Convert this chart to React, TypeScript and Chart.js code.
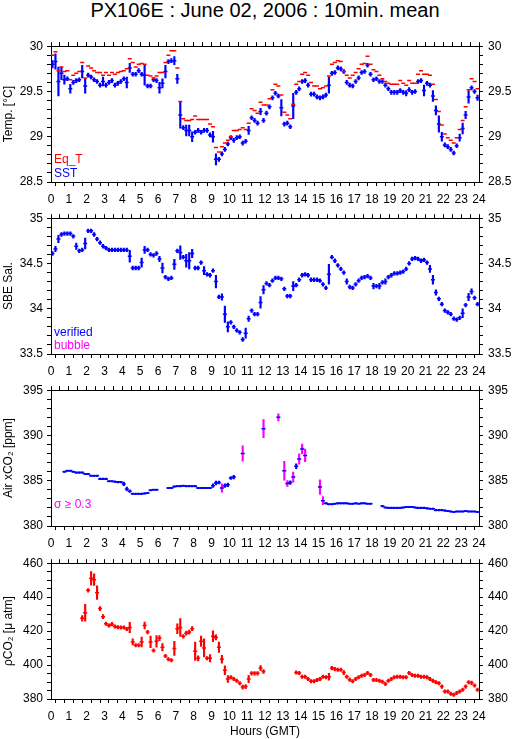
import React, { useEffect, useRef } from "react";
import { Chart, registerables } from "chart.js";

Chart.register(...registerables);

const FONT = "'Liberation Sans', Arial, Helvetica, sans-serif";
Chart.defaults.font.family = FONT;
Chart.defaults.color = "#000";

const RED = "#ff0000";
const BLUE = "#0000ff";
const MAGENTA = "#ff00ff";
const N = null;

// 10-minute mean bins over the day
const BIN_MINUTES = 10;
const N_BINS = 144;
const binHours = Array.from({ length: N_BINS }, (_, i) => ((i + 0.5) * BIN_MINUTES) / 60);

// tick labels
const hourTickLabels = [0, 1, 2, 3, 4, 5, 6, 7, 8, 9, 10, 11, 12, 13, 14, 15, 16, 17, 18, 19, 20, 21, 22, 23, 24];
const tempTickLabels = [28.5, 29, 29.5, 30];
const salTickLabels = [33.5, 34, 34.5, 35];
const xco2TickLabels = [380, 385, 390, 395];
const pco2TickLabels = [380, 400, 420, 440, 460];

// Equilibrator temperature [°C]
const eqTemp = [
  29.90, 29.94, 29.73, 29.77, 29.72, 29.73, 29.63, 29.68, 29.70, 29.72, 29.82, 29.65,
  29.78, 29.76, 29.73, 29.71, 29.71, 29.68, 29.71, 29.68, 29.71, 29.69, 29.71, 29.72,
  29.73, 29.75, 29.86, 29.82, 29.77, 29.80, 29.81, 29.80, 29.68, 29.67, 29.65, 29.67,
  29.71, 29.71, 29.82, 29.90, 29.95, 29.95, 29.76, 29.39, 29.20, 29.18, 29.18, 29.19,
  29.23, 29.19, 29.19, 29.19, 29.19, 29.14, 29.11, 28.88, 28.83, 28.89, 28.93, 28.96,
  29.00, 29.07, 29.07, 29.08, 29.10, 29.08, 29.15, 29.31, 29.29, 29.26, 29.38, 29.35,
  29.35, 29.42, 29.52, 29.58, 29.56, 29.46, 29.27, 29.24, 29.20, 29.36, 29.58, 29.61,
  29.69, 29.71, 29.68, 29.60, 29.56, 29.56, 29.53, 29.54, 29.56, 29.67, 29.80, 29.82,
  29.84, 29.83, 29.72, 29.68, 29.65, 29.68, 29.71, 29.75, 29.80, 29.81, 29.89, 29.80,
  29.74, 29.72, 29.68, 29.64, 29.61, 29.59, 29.58, 29.58, 29.58, 29.62, 29.59, 29.57,
  29.62, 29.59, 29.59, 29.69, 29.73, 29.69, 29.69, 29.68, 29.58, 29.41, 29.28, 29.13,
  29.03, 28.99, 28.96, 28.93, 28.99, 29.08, 29.18, 29.33, 29.52, 29.64, 29.61, 29.53,
];

// Sea surface temperature [°C] and its standard deviation
const sst = [
  29.80, 29.83, 29.61, 29.70, 29.63, 29.64, 29.53, 29.60, 29.62, 29.63, 29.72, 29.56,
  29.68, 29.66, 29.63, 29.61, 29.57, 29.61, 29.57, 29.60, 29.62, 29.57, 29.59, 29.61,
  29.64, 29.60, 29.76, 29.69, 29.69, 29.73, 29.69, 29.68, 29.56, 29.56, 29.63, 29.62,
  29.54, 29.59, 29.72, 29.83, 29.84, 29.84, 29.64, 29.24, 29.10, 29.07, 29.07, 29.00,
  29.05, 29.07, 29.05, 29.07, 29.07, 29.02, 29.00, 28.75, 28.75, 28.81, 28.86, 28.92,
  28.99, 28.96, 28.99, 29.00, 28.93, 28.95, 29.07, 29.21, 29.18, 29.15, 29.28, 29.18,
  29.26, 29.33, 29.43, 29.48, 29.45, 29.32, 29.14, 29.15, 29.11, 29.34, 29.49, 29.53,
  29.61, 29.62, 29.57, 29.47, 29.47, 29.44, 29.43, 29.44, 29.46, 29.57, 29.70, 29.71,
  29.76, 29.75, 29.72, 29.60, 29.57, 29.56, 29.61, 29.65, 29.71, 29.72, 29.79, 29.69,
  29.63, 29.64, 29.61, 29.61, 29.57, 29.53, 29.49, 29.49, 29.49, 29.51, 29.49, 29.48,
  29.52, 29.49, 29.50, 29.61, 29.62, 29.51, 29.59, 29.57, 29.45, 29.29, 29.14, 29.00,
  28.91, 28.89, 28.86, 28.82, 28.90, 28.99, 29.09, 29.24, 29.44, 29.54, 29.50, 29.43,
];
const sstSigma = [
  0.04, 0.085, 0.16, 0.07, 0.05, 0.022, 0.05, 0.022, 0.022, 0.022, 0.07, 0.08,
  0.022, 0.022, 0.022, 0.022, 0.022, 0.05, 0.022, 0.022, 0.022, 0.022, 0.022, 0.022,
  0.022, 0.06, 0.05, 0.022, 0.022, 0.022, 0.022, 0.11, 0.022, 0.022, 0.022, 0.022,
  0.06, 0.05, 0.07, 0.022, 0.022, 0.045, 0.05, 0.145, 0.022, 0.06, 0.06, 0.055,
  0.022, 0.022, 0.022, 0.022, 0.022, 0.022, 0.06, 0.06, 0.022, 0.022, 0.022, 0.022,
  0.022, 0.022, 0.022, 0.022, 0.022, 0.022, 0.045, 0.022, 0.022, 0.022, 0.035, 0.022,
  0.022, 0.022, 0.022, 0.022, 0.022, 0.09, 0.022, 0.022, 0.022, 0.14, 0.022, 0.022,
  0.022, 0.022, 0.022, 0.022, 0.022, 0.022, 0.022, 0.022, 0.022, 0.09, 0.022, 0.022,
  0.022, 0.022, 0.022, 0.022, 0.022, 0.022, 0.022, 0.022, 0.022, 0.022, 0.022, 0.022,
  0.022, 0.022, 0.022, 0.022, 0.022, 0.022, 0.022, 0.022, 0.022, 0.022, 0.022, 0.03,
  0.022, 0.022, 0.022, 0.022, 0.022, 0.06, 0.022, 0.022, 0.06, 0.05, 0.09, 0.05,
  0.022, 0.022, 0.022, 0.022, 0.022, 0.04, 0.06, 0.04, 0.07, 0.022, 0.022, 0.03,
];

// SBE salinity and its standard deviation
const salinity = [
  34.61, 34.66, 34.77, 34.82, 34.83, 34.83, 34.83, 34.80, 34.69, 34.64, 34.65, 34.72,
  34.86, 34.86, 34.82, 34.77, 34.73, 34.69, 34.67, 34.65, 34.65, 34.65, 34.65, 34.65,
  34.65, 34.65, 34.58, 34.45, 34.45, 34.45, 34.51, 34.65, 34.65, 34.60, 34.59, 34.61,
  34.55, 34.45, 34.35, 34.33, 34.34, 34.49, 34.64, 34.62, 34.57, 34.53, 34.53, 34.61,
  34.45, 34.45, 34.51, 34.42, 34.38, 34.37, 34.42, 34.30, 34.13, 34.13, 33.94, 33.80,
  33.85, 33.80, 33.76, 33.74, 33.66, 33.73, 33.89, 33.98, 33.94, 33.94, 34.07, 34.21,
  34.28, 34.26, 34.31, 34.34, 34.34, 34.33, 34.22, 34.14, 34.14, 34.25, 34.26, 34.32,
  34.37, 34.38, 34.37, 34.32, 34.32, 34.32, 34.31, 34.27, 34.23, 34.38, 34.57, 34.53,
  34.48, 34.44, 34.40, 34.30, 34.24, 34.23, 34.27, 34.31, 34.34, 34.35, 34.36, 34.34,
  34.25, 34.25, 34.25, 34.29, 34.30, 34.35, 34.37, 34.39, 34.39, 34.40, 34.41, 34.44,
  34.50, 34.55, 34.56, 34.55, 34.53, 34.54, 34.51, 34.44, 34.32, 34.18, 34.11, 34.05,
  33.98, 33.96, 33.94, 33.89, 33.88, 33.90, 33.95, 34.04, 34.13, 34.19, 34.12, 34.05,
];
const salSigma = [
  0.02, 0.03, 0.04, 0.02, 0.02, 0.02, 0.02, 0.02, 0.035, 0.02, 0.02, 0.06,
  0.02, 0.02, 0.02, 0.02, 0.02, 0.02, 0.02, 0.02, 0.02, 0.02, 0.02, 0.02,
  0.02, 0.02, 0.065, 0.02, 0.02, 0.02, 0.05, 0.04, 0.02, 0.02, 0.02, 0.02,
  0.03, 0.055, 0.02, 0.02, 0.02, 0.055, 0.02, 0.075, 0.02, 0.07, 0.09, 0.045,
  0.02, 0.02, 0.02, 0.045, 0.02, 0.02, 0.02, 0.07, 0.02, 0.035, 0.09, 0.055,
  0.02, 0.02, 0.02, 0.02, 0.02, 0.055, 0.03, 0.02, 0.02, 0.02, 0.065, 0.045,
  0.02, 0.02, 0.02, 0.02, 0.02, 0.02, 0.02, 0.02, 0.02, 0.05, 0.02, 0.02,
  0.02, 0.02, 0.02, 0.02, 0.02, 0.02, 0.02, 0.02, 0.02, 0.11, 0.02, 0.02,
  0.02, 0.02, 0.02, 0.03, 0.02, 0.02, 0.02, 0.02, 0.02, 0.02, 0.02, 0.02,
  0.03, 0.02, 0.03, 0.02, 0.03, 0.02, 0.02, 0.02, 0.02, 0.02, 0.02, 0.02,
  0.02, 0.02, 0.02, 0.02, 0.02, 0.02, 0.02, 0.04, 0.05, 0.03, 0.02, 0.02,
  0.02, 0.02, 0.02, 0.02, 0.02, 0.02, 0.05, 0.02, 0.04, 0.03, 0.02, 0.02,
];

// Air xCO2 [ppm] and its standard deviation
const airXco2 = [
  N, N, N, N, 386.0, 386.1, 386.1, 386.0, 385.9, 385.9, 385.9, 385.75,
  385.75, 385.55, 385.55, 385.55, 385.2, 385.2, 385.2, 384.95, 384.95, 384.9, 384.85, 384.85,
  384.65, 384.1, 383.85, 383.55, 383.55, 383.55, 383.55, 383.6, 383.65, 383.95, 384.0, 384.0,
  N, N, N, 384.2, 384.2, 384.35, 384.4, 384.4, 384.45, 384.4, 384.4, 384.4,
  384.4, 384.2, 384.2, 384.2, 384.2, 384.2, 384.45, 384.75, 384.8, 384.2, 384.45, 384.55,
  385.3, 385.4, N, N, 388.0, N, N, N, N, N, N, 390.75,
  N, N, N, N, 392.0, N, 386.1, 384.7, 384.8, 385.4, 386.6, 387.4,
  388.5, 387.8, N, N, N, N, 384.3, 382.8, 382.5, 382.4, 382.4, 382.45,
  382.5, 382.5, 382.5, 382.5, 382.45, 382.45, 382.5, 382.45, 382.5, 382.5, 382.45, 382.45,
  N, N, N, 382.2, 382.05, 382.0, 382.0, 382.0, 382.0, 382.0, 382.05, 382.1,
  382.1, 382.1, 382.05, 382.0, 382.0, 382.0, 381.95, 381.9, 381.9, 381.75, 381.75, 381.75,
  381.7, 381.65, 381.6, 381.55, 381.6, 381.6, 381.6, 381.65, 381.6, 381.6, 381.6, 381.55,
];
const xco2Sigma = [
  0, 0, 0, 0, 0.08, 0.08, 0.08, 0.08, 0.08, 0.08, 0.08, 0.08,
  0.08, 0.08, 0.08, 0.08, 0.08, 0.08, 0.08, 0.08, 0.08, 0.08, 0.08, 0.08,
  0.2, 0.2, 0.15, 0.08, 0.08, 0.08, 0.08, 0.08, 0.08, 0.08, 0.08, 0.08,
  0, 0, 0, 0.08, 0.08, 0.08, 0.08, 0.08, 0.08, 0.08, 0.08, 0.08,
  0.08, 0.08, 0.08, 0.08, 0.08, 0.08, 0.2, 0.2, 0.15, 0.45, 0.2, 0.2,
  0.15, 0.2, 0, 0, 0.85, 0, 0, 0, 0, 0, 0, 1.0,
  0, 0, 0, 0, 0.4, 0, 1.05, 0.33, 0.2, 0.55, 0.28, 0.58,
  0.55, 0.7, 0, 0, 0, 0, 0.8, 0.45, 0.08, 0.08, 0.08, 0.08,
  0.08, 0.08, 0.08, 0.08, 0.08, 0.08, 0.08, 0.08, 0.08, 0.08, 0.08, 0.08,
  0, 0, 0, 0.08, 0.08, 0.08, 0.08, 0.08, 0.08, 0.08, 0.08, 0.08,
  0.08, 0.08, 0.08, 0.08, 0.08, 0.08, 0.08, 0.08, 0.08, 0.08, 0.08, 0.08,
  0.08, 0.08, 0.08, 0.08, 0.08, 0.08, 0.08, 0.08, 0.08, 0.08, 0.08, 0.08,
];
const SIGMA_FLAG = 0.3;

// Seawater pCO2 [µatm] and its standard deviation
const pco2 = [
  N, N, N, N, N, N, N, N, N, N, 427.5, 430.8,
  444.0, 451.1, 450.3, 442.6, 433.3, 428.5, 424.3, 423.3, 424.1, 422.7, 422.3, 422.1,
  422.1, 421.2, 422.1, 413.6, 411.7, 411.7, 413.6, 423.3, 419.4, 413.6, 408.6, 414.0,
  415.9, 410.5, 405.3, 403.4, 402.8, 409.8, 421.4, 422.1, 416.9, 418.8, 419.4, 421.4,
  408.2, 404.0, 414.0, 410.1, 404.0, 404.0, 416.9, 416.3, 410.5, 403.4, 397.0, 391.8,
  392.8, 391.8, 390.8, 389.3, 387.0, 387.3, 391.8, 395.1, 395.1, 395.1, 398.2, 396.2,
  N, N, N, N, N, N, N, N, N, N, 395.6, 395.3,
  393.1, 393.1, 391.8, 390.4, 390.4, 391.2, 391.8, 393.1, 392.8, 393.1, 398.2, 397.6,
  397.2, 397.2, 395.6, 393.1, 391.4, 390.4, 391.8, 392.8, 393.7, 394.1, 395.3, 394.1,
  391.2, 391.2, 390.8, 390.2, 388.9, 390.8, 391.8, 392.8, 393.1, 393.1, 392.8, 392.8,
  395.3, 394.1, 393.7, 393.7, 393.1, 393.1, 392.8, 391.8, 390.8, 389.9, 389.3, 387.3,
  384.4, 384.4, 383.1, 382.5, 383.5, 384.4, 385.4, 387.3, 389.9, 389.5, 388.0, 385.4,
];
const pco2Sigma = [
  0, 0, 0, 0, 0, 0, 0, 0, 0, 0, 1.7, 5,
  1, 4, 3.4, 4, 1.2, 1.2, 1, 1, 1, 1, 1, 1,
  1, 1, 3, 1.8, 1, 1, 2.9, 2, 1, 3.4, 1, 3.4,
  1.5, 2.2, 1, 1, 1, 4.1, 2.9, 5.3, 1, 1.2, 1.2, 1.2,
  5.4, 1.5, 3, 5.3, 1, 2.1, 3.2, 1.5, 3.1, 2.3, 2.6, 2,
  1, 1, 1, 1, 1.2, 1.2, 2.2, 1, 1, 1, 1.5, 1.2,
  0, 0, 0, 0, 0, 0, 0, 0, 0, 0, 1, 1,
  1, 1, 1, 1, 1, 1, 1, 1, 1, 2, 1, 1,
  1, 1, 1.2, 1, 1, 1, 1, 1, 1, 1, 1, 1,
  1, 1, 1, 1, 1, 1, 1, 1, 1, 1, 1, 1,
  1, 1, 1, 1, 1, 1, 1, 1, 1, 1, 1, 1,
  1, 1, 1, 1, 1, 1, 1, 1, 1, 1, 1, 1,
];

// ---------- layout ----------
const W = 515;
const PLOT_LEFT = 51;
const PLOT_RIGHT = 479;
const TOP_BOX = 10;
const BOTTOM_BOX = 26;
const LAST_BOTTOM_BOX = 40;
const MARK_WIDTH = 1.5;

function dashSet(values: (number | null)[], color: string) {
  const data: { x: number; y: number }[] = [];
  values.forEach((v, i) => {
    if (v != null) data.push({ x: binHours[i], y: v });
  });
  return {
    type: "scatter" as const,
    data,
    showLine: false,
    pointStyle: "line",
    pointRadius: 2,
    pointHoverRadius: 2,
    pointBorderColor: color,
    pointBackgroundColor: color,
    pointBorderWidth: MARK_WIDTH,
    borderColor: color,
    backgroundColor: color,
    xAxisID: "x",
    yAxisID: "y",
    order: 1,
  };
}

function barSet(values: (number | null)[], sig: number[], color: string, keep: (s: number) => boolean) {
  const data: { x: number; y: number[] }[] = [];
  values.forEach((v, i) => {
    if (v != null && sig[i] > 0 && keep(sig[i])) data.push({ x: binHours[i], y: [v - sig[i], v + sig[i]] });
  });
  return {
    type: "bar" as const,
    data,
    backgroundColor: color,
    borderWidth: 0,
    grouped: false,
    barThickness: MARK_WIDTH,
    maxBarThickness: MARK_WIDTH,
    barPercentage: 1,
    categoryPercentage: 1,
    xAxisID: "x",
    yAxisID: "y",
    order: 2,
  };
}

const all = () => true;

const PANELS = [
  {
    key: "temp",
    top: 44,
    bottom: 182,
    yMin: 28.5,
    yMax: 30,
    yStep: 0.1,
    yLabels: tempTickLabels,
    yTitle: "Temp. [°C]",
    notes: [
      { text: "Eq_T", color: RED, dy: 19 },
      { text: "SST", color: BLUE, dy: 5 },
    ],
    datasets: () => [dashSet(eqTemp, RED), dashSet(sst, BLUE), barSet(sst, sstSigma, BLUE, all)],
  },
  {
    key: "sal",
    top: 216,
    bottom: 354,
    yMin: 33.5,
    yMax: 35,
    yStep: 0.1,
    yLabels: salTickLabels,
    yTitle: "SBE Sal.",
    notes: [
      { text: "verified", color: BLUE, dy: 18 },
      { text: "bubble", color: MAGENTA, dy: 5 },
    ],
    datasets: () => [dashSet(salinity, BLUE), barSet(salinity, salSigma, BLUE, all)],
  },
  {
    key: "xco2",
    top: 388,
    bottom: 526,
    yMin: 380,
    yMax: 395,
    yStep: 1,
    yLabels: xco2TickLabels,
    yTitle: "Air xCO₂ [ppm]",
    notes: [{ text: "σ ≥ 0.3", color: MAGENTA, dy: 18 }],
    datasets: () => [
      dashSet(airXco2, BLUE),
      barSet(airXco2, xco2Sigma, BLUE, (s) => s < SIGMA_FLAG),
      barSet(airXco2, xco2Sigma, MAGENTA, (s) => s >= SIGMA_FLAG),
    ],
  },
  {
    key: "pco2",
    top: 561,
    bottom: 699,
    yMin: 380,
    yMax: 460,
    yStep: 5,
    yLabels: pco2TickLabels,
    yTitle: "ρCO₂ [μ atm]",
    notes: [],
    datasets: () => [dashSet(pco2, RED), barSet(pco2, pco2Sigma, RED, all)],
  },
];

const notesPlugin = {
  id: "notes",
  afterDraw(chart: any, _args: any, opts: any) {
    const { ctx, chartArea } = chart;
    ctx.save();
    ctx.font = `12px ${FONT}`;
    ctx.textAlign = "left";
    ctx.textBaseline = "alphabetic";
    (opts.items || []).forEach((it: any) => {
      ctx.fillStyle = it.color;
      ctx.fillText(it.text, chartArea.left + 3, chartArea.bottom - it.dy);
    });
    ctx.restore();
  },
};

const fmt = (v: number) => String(Math.round(v * 100) / 100);
const labelIf = (labels: number[]) => (v: any) => {
  const n = Number(v);
  return labels.some((l) => Math.abs(l - n) < 1e-6) ? fmt(n) : "";
};

const gridOpts = {
  drawOnChartArea: false,
  drawTicks: true,
  tickLength: 4,
  color: "#000",
  tickColor: "#000",
  lineWidth: 1,
};
const borderOpts = { display: true, color: "#000", width: 1 };
const tickFont = { family: FONT, size: 12 };

function makeConfig(p: (typeof PANELS)[number], isLast: boolean): any {
  const bottomBox = isLast ? LAST_BOTTOM_BOX : BOTTOM_BOX;
  return {
    type: "scatter",
    data: { datasets: p.datasets() },
    plugins: [notesPlugin],
    options: {
      responsive: false,
      animation: false,
      devicePixelRatio: 1,
      events: [],
      layout: { padding: 0 },
      plugins: {
        legend: { display: false },
        tooltip: { enabled: false },
        notes: { items: p.notes },
      },
      scales: {
        x: {
          type: "linear",
          position: "bottom",
          min: 0,
          max: 24,
          offset: false,
          ticks: {
            stepSize: 0.5,
            autoSkip: false,
            maxRotation: 0,
            minRotation: 0,
            padding: 6,
            color: "#000",
            font: tickFont,
            callback: labelIf(hourTickLabels),
          },
          grid: gridOpts,
          border: borderOpts,
          title: {
            display: isLast,
            text: "Hours (GMT)",
            color: "#000",
            font: { family: FONT, size: 12 },
            padding: { top: 0, bottom: 0 },
          },
          afterFit: (s: any) => {
            s.height = bottomBox;
          },
        },
        x2: {
          type: "linear",
          position: "top",
          min: 0,
          max: 24,
          offset: false,
          ticks: { stepSize: 0.5, autoSkip: false, display: false },
          grid: gridOpts,
          border: borderOpts,
          afterFit: (s: any) => {
            s.height = TOP_BOX;
          },
        },
        y: {
          type: "linear",
          position: "left",
          min: p.yMin,
          max: p.yMax,
          ticks: {
            stepSize: p.yStep,
            autoSkip: false,
            padding: 4,
            color: "#000",
            font: tickFont,
            callback: labelIf(p.yLabels),
          },
          grid: gridOpts,
          border: borderOpts,
          title: {
            display: true,
            text: p.yTitle,
            color: "#000",
            font: { family: FONT, size: 12 },
            padding: { top: 1, bottom: 0 },
          },
          afterFit: (s: any) => {
            s.width = PLOT_LEFT;
          },
        },
        y2: {
          type: "linear",
          position: "right",
          min: p.yMin,
          max: p.yMax,
          ticks: {
            stepSize: p.yStep,
            autoSkip: false,
            padding: 5,
            color: "#000",
            font: tickFont,
            callback: labelIf(p.yLabels),
          },
          grid: gridOpts,
          border: borderOpts,
          afterFit: (s: any) => {
            s.width = W - PLOT_RIGHT;
          },
        },
      },
    },
  };
}

export default function App() {
  const refs = useRef<(HTMLCanvasElement | null)[]>([]);

  useEffect(() => {
    const charts = PANELS.map((p, k) => new Chart(refs.current[k] as HTMLCanvasElement, makeConfig(p, k === PANELS.length - 1)));
    return () => charts.forEach((c) => c.destroy());
  }, []);

  return (
    <div style={{ position: "absolute", left: 0, top: 0, width: W, height: 739, background: "#fff", overflow: "hidden" }}>
      <div
        style={{
          position: "absolute",
          left: 0,
          top: 0,
          width: PLOT_LEFT + PLOT_RIGHT,
          textAlign: "center",
          font: `20px ${FONT}`,
          lineHeight: "20px",
          color: "#000",
          whiteSpace: "nowrap",
        }}
      >
        PX106E : June 02, 2006 : 10min. mean
      </div>
      {PANELS.map((p, k) => {
        const isLast = k === PANELS.length - 1;
        const h = TOP_BOX + (p.bottom - p.top) + (isLast ? LAST_BOTTOM_BOX : BOTTOM_BOX);
        return (
          <canvas
            key={p.key}
            ref={(el) => {
              refs.current[k] = el;
            }}
            width={W}
            height={h}
            style={{ position: "absolute", left: 0, top: p.top - TOP_BOX, display: "block" }}
          />
        );
      })}
    </div>
  );
}
